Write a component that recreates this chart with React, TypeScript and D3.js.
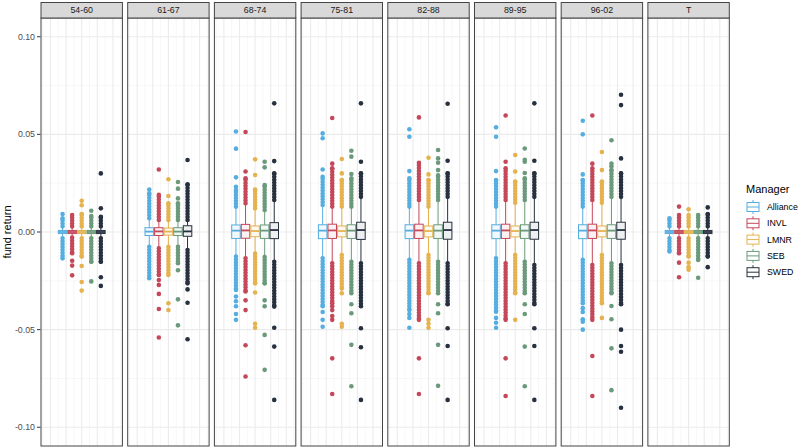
import React from "react";
import * as d3 from "d3";

const periods = ["54-60", "61-67", "68-74", "75-81", "82-88", "89-95", "96-02", "T"];
const managers = ["Alliance", "INVL", "LMNR", "SEB", "SWED"];
const colors = ["#55ade0", "#c4475a", "#e5b24f", "#6b9a7b", "#27303f"];
const yMajor = [-0.1, -0.05, 0, 0.05, 0.1];
const yMinor = [-0.075, -0.025, 0.025, 0.075];
const yLabels = ["-0.10", "-0.05", "0.00", "0.05", "0.10"];

// per period (rows) x manager (cols)
const q1 = [
  [-0.0008, -0.0008, -0.0008, -0.0008, -0.0008],
  [-0.0018, -0.0018, -0.0016, -0.0018, -0.0022],
  [-0.0033, -0.0032, -0.0024, -0.0033, -0.0034],
  [-0.0034, -0.0033, -0.0025, -0.0033, -0.0038],
  [-0.0034, -0.0033, -0.0025, -0.0033, -0.0037],
  [-0.0034, -0.0033, -0.0025, -0.0033, -0.0037],
  [-0.0034, -0.0033, -0.0025, -0.0033, -0.0037],
  [-0.0008, -0.0008, -0.0008, -0.0008, -0.0008],
];
const median = [
  [0, 0, 0, 0, 0],
  [0.0002, 0.0003, 0.0002, 0.0002, 0.0003],
  [0.0007, 0.0008, 0.0005, 0.0007, 0.001],
  [0.0007, 0.0008, 0.0005, 0.0007, 0.001],
  [0.0007, 0.0008, 0.0005, 0.0007, 0.001],
  [0.0007, 0.0008, 0.0005, 0.0007, 0.001],
  [0.0007, 0.0008, 0.0005, 0.0007, 0.001],
  [0, 0, 0, 0, 0],
];
const q3 = [
  [0.0008, 0.0008, 0.0008, 0.0008, 0.0008],
  [0.0022, 0.0022, 0.002, 0.0022, 0.0032],
  [0.0036, 0.0039, 0.0031, 0.0036, 0.0048],
  [0.0037, 0.004, 0.0031, 0.0037, 0.005],
  [0.0037, 0.004, 0.0031, 0.0037, 0.005],
  [0.0037, 0.004, 0.0031, 0.0037, 0.005],
  [0.0037, 0.004, 0.0031, 0.0037, 0.005],
  [0.0008, 0.0008, 0.0008, 0.0008, 0.0008],
];
const whiskerLow = [
  [-0.0028, -0.0026, -0.0028, -0.0028, -0.0028],
  [-0.0072, -0.008, -0.0072, -0.0072, -0.0088],
  [-0.0123, -0.0132, -0.0107, -0.0125, -0.0149],
  [-0.0132, -0.0157, -0.0115, -0.0149, -0.0157],
  [-0.014, -0.0157, -0.0115, -0.0149, -0.0157],
  [-0.0132, -0.0157, -0.0115, -0.0149, -0.0166],
  [-0.014, -0.0166, -0.0115, -0.0157, -0.0166],
  [-0.0028, -0.0028, -0.0028, -0.0028, -0.0028],
];
const whiskerHigh = [
  [0.0025, 0.0025, 0.0025, 0.0025, 0.0025],
  [0.0068, 0.0059, 0.0058, 0.0058, 0.0058],
  [0.0128, 0.0144, 0.0118, 0.011, 0.0161],
  [0.0135, 0.0127, 0.0127, 0.0127, 0.0177],
  [0.0127, 0.0161, 0.0127, 0.0161, 0.0177],
  [0.0127, 0.0161, 0.0147, 0.0161, 0.0177],
  [0.0127, 0.0161, 0.0147, 0.0177, 0.0177],
  [0.0025, 0.0025, 0.0025, 0.0025, 0.0025],
];
// runs of overlapping outliers: [nearest to box, farthest]
const denseHigh = [
  [[0.0029, 0.007], [0.0029, 0.0087], [0.0029, 0.0092], [0.0029, 0.0082], [0.0029, 0.0078]],
  [[0.0071, 0.0198], [0.0062, 0.019], [0.0062, 0.0147], [0.0062, 0.0147], [0.0062, 0.0244]],
  [[0.013, 0.0215], [0.0147, 0.0275], [0.0121, 0.0218], [0.0113, 0.024], [0.0164, 0.03]],
  [[0.0138, 0.0283], [0.013, 0.0326], [0.013, 0.0266], [0.013, 0.0275], [0.018, 0.03]],
  [[0.013, 0.0275], [0.0164, 0.0355], [0.013, 0.0266], [0.0164, 0.029], [0.018, 0.03]],
  [[0.013, 0.0266], [0.0164, 0.0326], [0.015, 0.0258], [0.0164, 0.0275], [0.018, 0.03]],
  [[0.013, 0.0266], [0.0164, 0.0326], [0.015, 0.0258], [0.018, 0.0317], [0.018, 0.03]],
  [[0.0029, 0.007], [0.0029, 0.0087], [0.0029, 0.0087], [0.0029, 0.0087], [0.0029, 0.0092]],
];
const denseLow = [
  [[-0.0032, -0.0135], [-0.0029, -0.0109], [-0.0032, -0.0126], [-0.0032, -0.0152], [-0.0032, -0.0152]],
  [[-0.0076, -0.0237], [-0.0084, -0.022], [-0.0076, -0.022], [-0.0076, -0.016], [-0.0092, -0.0263]],
  [[-0.0126, -0.0297], [-0.0135, -0.0305], [-0.011, -0.0263], [-0.0128, -0.0263], [-0.0152, -0.0382]],
  [[-0.0135, -0.038], [-0.016, -0.0365], [-0.0118, -0.029], [-0.0152, -0.0314], [-0.016, -0.038]],
  [[-0.0143, -0.04], [-0.016, -0.045], [-0.0118, -0.0314], [-0.0152, -0.0314], [-0.016, -0.037]],
  [[-0.0135, -0.0408], [-0.016, -0.045], [-0.0118, -0.0314], [-0.0152, -0.0314], [-0.0169, -0.037]],
  [[-0.0143, -0.0365], [-0.0169, -0.045], [-0.0118, -0.0365], [-0.016, -0.0314], [-0.0169, -0.037]],
  [[-0.0032, -0.01], [-0.0032, -0.0109], [-0.0032, -0.0126], [-0.0032, -0.0143], [-0.0032, -0.0126]],
];
const outliers = [
  [[0.0092], [-0.0147, -0.0172, -0.0222], [0.016, 0.0137, -0.0174, -0.0256, -0.03], [0.0109, -0.0253], [0.03, 0.0121, -0.0232, -0.0276]],
  [[0.0218], [0.032, -0.0246, -0.0271, -0.0317, -0.0394, -0.054], [0.027, 0.0184, -0.0365, -0.04], [0.0256, 0.0222, 0.0172, -0.0196, -0.0345, -0.0478], [0.0369, -0.0294, -0.0362, -0.0549]],
  [[0.0515, 0.0427, 0.028, 0.0232, -0.033, -0.0355, -0.038, -0.042, -0.045], [0.0512, 0.031, -0.035, -0.04, -0.058, -0.074], [0.0372, 0.0292, -0.031, -0.047, -0.049], [0.036, 0.0331, -0.035, -0.038, -0.0527, -0.0706], [0.0659, 0.0363, -0.049, -0.0587, -0.086]],
  [[0.0505, 0.048, 0.032, -0.041, -0.045, -0.0485], [0.0584, 0.035, -0.038, -0.04, -0.043, -0.045, -0.0647, -0.083], [0.0374, 0.03, -0.0314, -0.047, -0.0485], [0.0416, 0.0386, 0.0297, -0.037, -0.0416, -0.0578, -0.079], [0.0659, 0.036, -0.0493, -0.059, -0.086]],
  [[0.0526, 0.0488, 0.0312, -0.042, -0.044, -0.049], [0.0587, -0.0647, -0.083], [0.038, 0.0295, -0.045, -0.047, -0.049], [0.042, 0.0377, 0.0355, 0.0317, -0.037, -0.0416, -0.0578, -0.0788], [0.0657, 0.0365, -0.0493, -0.0584, -0.086]],
  [[0.0536, 0.0488, 0.0312, -0.044, -0.0465, -0.049], [0.0597, 0.036, -0.0647, -0.084], [0.0394, 0.031, -0.045], [0.0428, 0.037, 0.036, 0.0302, -0.037, -0.042, -0.0587, -0.079], [0.0659, 0.0365, -0.0493, -0.0584, -0.086]],
  [[0.057, 0.05, 0.0295, -0.039, -0.041, -0.0447, -0.046, -0.05], [0.0597, 0.035, -0.0635, -0.084], [0.041, 0.0317, -0.044], [0.047, 0.035, 0.0336, -0.0379, -0.0447, -0.0596, -0.081], [0.0703, 0.065, 0.0377, -0.05, -0.0584, -0.0613, -0.09]],
  [[], [0.013, -0.0157, -0.0232], [0.0116, -0.0157, -0.018, -0.0193], [-0.0234], [0.0126, -0.018]],
];

const W = 800;
const H = 448;
const FONT = "'Liberation Sans', Arial, Helvetica, sans-serif";

export default function App() {
  const y = d3.scaleLinear().domain([-0.1096, 0.1096]).range([446, 18]);
  const xPanel = d3.scaleBand<string>().domain(periods).range([41, 729.3]).paddingInner(0.061);
  const bw = xPanel.bandwidth();
  const panelTop = 18;
  const panelBottom = 446;

  const legendX = 746;
  const legendY0 = 207;
  const legendStep = 16.3;

  return (
    <svg width={W} height={H} style={{ position: "absolute", left: 0, top: 0, background: "#fff" }} fontFamily={FONT}>
      <rect x={0} y={0} width={W} height={H} fill="#fff" />
      <text transform={`translate(11,${y(0)}) rotate(-90)`} textAnchor="middle" fontSize={11} fill="#000">
        fund return
      </text>
      {yMajor.map((v, i) => (
        <g key={"yt" + i}>
          <line x1={37} x2={40.5} y1={y(v)} y2={y(v)} stroke="#333" strokeWidth={1} />
          <text x={35} y={y(v)} dy="0.34em" textAnchor="end" fontSize={8.8} fill="#4d4d4d">
            {yLabels[i]}
          </text>
        </g>
      ))}
      {periods.map((p, pi) => {
        const left = xPanel(p) as number;
        const cx = left + bw / 2;
        const xg = d3.scaleLinear().domain([-2.61, 2.61]).range([left, left + bw]);
        const xm = d3.scaleBand<string>().domain(managers).range([cx - 23.4, cx + 23.4]).paddingInner(0.11);
        const boxW = xm.bandwidth();
        const majorX = [-2, -1, 0, 1, 2];
        const minorX = [-2.5, -1.5, -0.5, 0.5, 1.5, 2.5];
        return (
          <g key={p}>
            {yMinor.map((v) => (
              <line key={"ym" + v} x1={left} x2={left + bw} y1={y(v)} y2={y(v)} stroke="#f2f2f2" strokeWidth={0.6} />
            ))}
            {minorX.map((v) => (
              <line key={"xm" + v} x1={xg(v)} x2={xg(v)} y1={panelTop} y2={panelBottom} stroke="#f2f2f2" strokeWidth={0.6} />
            ))}
            {yMajor.map((v) => (
              <line key={"yM" + v} x1={left} x2={left + bw} y1={y(v)} y2={y(v)} stroke="#ebebeb" strokeWidth={1.1} />
            ))}
            {majorX.map((v) => (
              <line key={"xM" + v} x1={xg(v)} x2={xg(v)} y1={panelTop} y2={panelBottom} stroke="#ebebeb" strokeWidth={1.1} />
            ))}
            {managers.map((m, mi) => {
              const c = colors[mi];
              const bx = xm(m) as number;
              const mx = bx + boxW / 2;
              const dh = denseHigh[pi][mi];
              const dl = denseLow[pi][mi];
              return (
                <g key={m}>
                  <line x1={mx} x2={mx} y1={y(q3[pi][mi])} y2={y(whiskerHigh[pi][mi])} stroke={c} strokeWidth={1} />
                  <line x1={mx} x2={mx} y1={y(q1[pi][mi])} y2={y(whiskerLow[pi][mi])} stroke={c} strokeWidth={1} />
                  {[dh, dl].map((d, k) => (
                    <line
                      key={"d" + k}
                      x1={mx}
                      x2={mx}
                      y1={y(d[0])}
                      y2={y(d[1])}
                      stroke={c}
                      strokeWidth={4.6}
                      strokeLinecap="round"
                      strokeDasharray="0 2.9"
                    />
                  ))}
                  {[dh, dl].map((d, k) => (
                    <circle key={"de" + k} cx={mx} cy={y(d[1])} r={2.3} fill={c} />
                  ))}
                  {outliers[pi][mi].map((v, k) => (
                    <circle key={"o" + k} cx={mx} cy={y(v)} r={2.3} fill={c} />
                  ))}
                  <rect
                    x={bx}
                    y={y(q3[pi][mi])}
                    width={boxW}
                    height={y(q1[pi][mi]) - y(q3[pi][mi])}
                    fill="#fff"
                    stroke={c}
                    strokeWidth={1}
                  />
                  <rect
                    x={bx}
                    y={y(q3[pi][mi])}
                    width={boxW}
                    height={y(q1[pi][mi]) - y(q3[pi][mi])}
                    fill={c}
                    fillOpacity={0.08}
                  />
                  <line x1={bx} x2={bx + boxW} y1={y(median[pi][mi])} y2={y(median[pi][mi])} stroke={c} strokeWidth={1.8} />
                </g>
              );
            })}
            <rect x={left} y={panelTop} width={bw} height={panelBottom - panelTop} fill="none" stroke="#444" strokeWidth={1} />
            <rect x={left} y={2.5} width={bw} height={15.5} fill="#d9d9d9" stroke="#444" strokeWidth={1} />
            <text x={cx} y={10.4} dy="0.35em" textAnchor="middle" fontSize={8.8} fill="#1a1a1a">
              {p}
            </text>
          </g>
        );
      })}
      <text x={legendX} y={193} fontSize={11} fill="#000">
        Manager
      </text>
      {managers.map((m, i) => {
        const cy = legendY0 + i * legendStep;
        const c = colors[i];
        return (
          <g key={"lg" + m}>
            <line x1={legendX + 7} x2={legendX + 7} y1={cy - 7} y2={cy + 7} stroke={c} strokeWidth={1} />
            <rect x={legendX + 1} y={cy - 4.5} width={12} height={9} fill="#fff" stroke={c} strokeWidth={1} />
            <line x1={legendX + 1} x2={legendX + 13} y1={cy} y2={cy} stroke={c} strokeWidth={1} />
            <text x={legendX + 21} y={cy} dy="0.35em" fontSize={8.8} fill="#000">
              {m}
            </text>
          </g>
        );
      })}
    </svg>
  );
}
